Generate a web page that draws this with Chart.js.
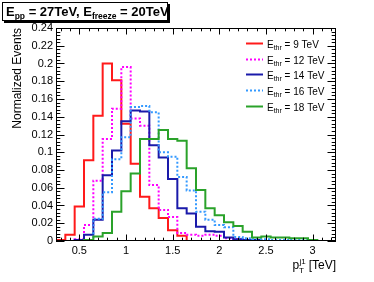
<!DOCTYPE html>
<html>
<head>
<meta charset="utf-8">
<script src="https://cdn.jsdelivr.net/npm/chart.js@4.4.0/dist/chart.umd.min.js"></script>
<style>
html,body{margin:0;padding:0;background:#fff;}
canvas{display:block;}
</style>
</head>
<body>
<canvas id="c" width="374" height="282"></canvas>
<script>
// ---- data ----
const binCenters = [0.3,0.4,0.5,0.6,0.7,0.8,0.9,1.0,1.1,1.2,1.3,1.4,1.5,1.6,1.7,1.8,1.9,2.0,2.1,2.2,2.3,2.4,2.5,2.6,2.7,2.8,2.9,3.0,3.1,3.2];
const binWidth = 0.1;
const thresholds = [9, 12, 14, 16, 18];
const ethr9  = [0.001,0.007,0.039,0.091,0.141,0.200,0.181,0.132,0.087,0.050,0.037,0.026,0.012,0.006,0,0,0,0,0,0,0,0,0,0,0,0,0,0,0,0];
const ethr12 = [0,0,0.002,0.018,0.068,0.115,0.149,0.196,0.138,0.130,0.063,0.035,0.027,0.009,0.007,0.006,0.007,0.006,0.003,0.002,0.001,0,0,0,0,0,0,0,0,0];
const ethr14 = [0,0,0.001,0.007,0.024,0.074,0.102,0.135,0.147,0.146,0.108,0.094,0.070,0.037,0.031,0.016,0.011,0.0105,0.004,0.002,0.001,0.001,0,0,0,0,0,0,0,0];
const ethr16 = [0,0,0,0.001,0.025,0.055,0.092,0.117,0.151,0.152,0.145,0.100,0.095,0.072,0.057,0.033,0.024,0.018,0.0155,0.0045,0.003,0.002,0.002,0.001,0.001,0.002,0.002,0,0,0];
const ethr18 = [0,0,0,0.001,0.005,0.009,0.033,0.056,0.076,0.115,0.115,0.125,0.115,0.113,0.082,0.0575,0.037,0.029,0.021,0.017,0.0105,0.004,0.005,0.004,0.004,0.003,0.003,0.001,0,0];
const xTickValues = [0.5,1,1.5,2,2.5,3];
const yTickValues = [0,0.02,0.04,0.06,0.08,0.1,0.12,0.14,0.16,0.18,0.2,0.22,0.24];

// ---- styles ----
const seriesStyle = [
  {color:'#ff1a1a', dash:[]},
  {color:'#ff00ff', dash:[2,2]},
  {color:'#1a1aaa', dash:[]},
  {color:'#3399ff', dash:[2,2]},
  {color:'#2aa22a', dash:[]}
];
const seriesValues = [ethr9, ethr12, ethr14, ethr16, ethr18];

function histPoints(vals){
  const pts = [];
  for (let i=0;i<binCenters.length;i++){
    pts.push({x: binCenters[i]-binWidth/2, y: vals[i]});
  }
  const last = binCenters.length-1;
  pts.push({x: binCenters[last]+binWidth/2, y: vals[last]});
  return pts;
}

const datasets = seriesValues.map((v,i)=>({
  label: 'E_thr = ' + thresholds[i] + ' TeV',
  data: histPoints(v),
  borderColor: seriesStyle[i].color,
  borderDash: seriesStyle[i].dash,
  borderWidth: 2,
  pointRadius: 0,
  stepped: 'before',
  fill: false,
  order: 5 - i
}));

const FONT = '"Liberation Sans", Arial, Helvetica, sans-serif';

function fmt(v){ return String(parseFloat(v.toFixed(3))); }

const decor = {
  id: 'decor',
  afterDatasetsDraw(chart){
    const ctx = chart.ctx;
    const a = chart.chartArea;
    const xs = chart.scales.x, ys = chart.scales.y;
    ctx.save();
    // frame
    ctx.strokeStyle = '#000';
    ctx.lineWidth = 1;
    ctx.strokeRect(Math.round(a.left)+0.5, Math.round(a.top)+0.5, Math.round(a.right-a.left)-1, Math.round(a.bottom-a.top)-1);
    // x ticks (bottom and top)
    ctx.beginPath();
    for (let k=0; k<=30; k++){
      const val = Math.round((0.3 + k*0.1)*10)/10;
      if (val < xs.min || val > xs.max) continue;
      const px = Math.round(xs.getPixelForValue(val))+0.5;
      const major = Math.abs(val*2 - Math.round(val*2)) < 1e-6;
      const L = major ? 6.5 : 3.3;
      ctx.moveTo(px, a.bottom); ctx.lineTo(px, a.bottom - L);
      ctx.moveTo(px, a.top); ctx.lineTo(px, a.top + L);
    }
    // y ticks (left and right)
    for (let k=0; k<=60; k++){
      const val = k*0.004;
      const py = Math.round(ys.getPixelForValue(val))+0.5;
      const major = (k % 5) === 0;
      const L = major ? 8.5 : 4.3;
      ctx.moveTo(a.left, py); ctx.lineTo(a.left + L, py);
      ctx.moveTo(a.right, py); ctx.lineTo(a.right - L, py);
    }
    ctx.stroke();

    // legend
    const lx0 = 246, lx1 = 263, tx = 267;
    for (let i=0;i<thresholds.length;i++){
      const y = Math.round(43 + i*15.7) + 0.5;
      ctx.beginPath();
      ctx.strokeStyle = seriesStyle[i].color;
      ctx.setLineDash(seriesStyle[i].dash);
      ctx.lineWidth = 2;
      ctx.moveTo(lx0, y); ctx.lineTo(lx1, y);
      ctx.stroke();
      ctx.setLineDash([]);
      ctx.fillStyle = '#000';
      ctx.textBaseline = 'alphabetic';
      ctx.textAlign = 'left';
      ctx.font = '10px ' + FONT;
      let x = tx;
      ctx.fillText('E', x, y+4); x += ctx.measureText('E').width;
      ctx.font = '7px ' + FONT;
      ctx.fillText('thr', x, y+6.5); x += ctx.measureText('thr').width;
      ctx.font = '10px ' + FONT;
      ctx.fillText(' = ' + thresholds[i] + ' TeV', x, y+4);
    }

    // x-axis title p_T^{j1} [TeV]
    ctx.fillStyle = '#000';
    const rest = ' [TeV]';
    ctx.font = '12px ' + FONT;
    const wRest = ctx.measureText(rest).width;
    ctx.font = '8px ' + FONT;
    const wSup = Math.max(ctx.measureText('j1').width, ctx.measureText('T').width);
    ctx.font = '12px ' + FONT;
    const wP = ctx.measureText('p').width;
    let xt = a.right - wRest - wSup - wP;
    const by = 269;
    ctx.fillText('p', xt, by); xt += wP;
    ctx.font = '8px ' + FONT;
    ctx.fillText('j1', xt+0.5, by-5);
    ctx.fillText('T', xt, by+4);
    xt += wSup;
    ctx.font = '12px ' + FONT;
    ctx.fillText(rest, xt, by);

    // y-axis title
    ctx.save();
    ctx.translate(21, a.top);
    ctx.rotate(-Math.PI/2);
    ctx.textAlign = 'right';
    ctx.font = '12px ' + FONT;
    ctx.fillText('Normalized Events', 0, 0);
    ctx.restore();

    // title box
    ctx.fillStyle = '#000';
    ctx.fillRect(4, 21, 166, 2);
    ctx.fillRect(168, 4, 2, 19);
    ctx.fillStyle = '#fff';
    ctx.fillRect(2, 2, 166, 19);
    ctx.strokeStyle = '#000';
    ctx.lineWidth = 1;
    ctx.strokeRect(2.5, 2.5, 165, 18);
    ctx.fillStyle = '#000';
    let tx2 = 6;
    const tb = 16;
    ctx.font = 'bold 13px ' + FONT;
    ctx.fillText('E', tx2, tb); tx2 += ctx.measureText('E').width;
    ctx.font = 'bold 8.5px ' + FONT;
    ctx.fillText('pp', tx2, tb+3); tx2 += ctx.measureText('pp').width;
    ctx.font = 'bold 13px ' + FONT;
    ctx.fillText(' = 27TeV, E', tx2, tb); tx2 += ctx.measureText(' = 27TeV, E').width;
    ctx.font = 'bold 8.5px ' + FONT;
    ctx.fillText('freeze', tx2, tb+3); tx2 += ctx.measureText('freeze').width;
    ctx.font = 'bold 13px ' + FONT;
    ctx.fillText(' = 20TeV', tx2, tb);
    ctx.restore();
  }
};

new Chart(document.getElementById('c'), {
  type: 'line',
  data: { datasets },
  options: {
    responsive: false,
    animation: false,
    devicePixelRatio: 1,
    layout: { padding: { left: 0, right: 38, top: 28, bottom: 0 } },
    plugins: { legend: { display: false }, tooltip: { enabled: false } },
    scales: {
      x: {
        type: 'linear', min: 0.25, max: 3.25,
        grid: { display: false, drawTicks: false },
        border: { display: false },
        ticks: { color: '#000', font: { family: FONT, size: 11 }, padding: 3, maxRotation: 0,
                 callback: v => fmt(v) },
        afterBuildTicks: s => { s.ticks = xTickValues.map(v => ({ value: v })); },
        afterFit: s => { s.height = 41; }
      },
      y: {
        type: 'linear', min: 0, max: 0.24,
        grid: { display: false, drawTicks: false },
        border: { display: false },
        ticks: { color: '#000', font: { family: FONT, size: 11 }, padding: 3,
                 callback: v => fmt(v) },
        afterBuildTicks: s => { s.ticks = yTickValues.map(v => ({ value: v })); },
        afterFit: s => { s.width = 56; }
      }
    }
  },
  plugins: [decor]
});
</script>
</body>
</html>
